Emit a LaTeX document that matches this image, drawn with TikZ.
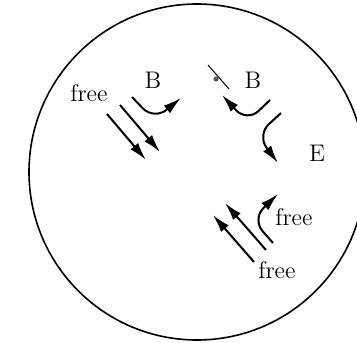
\documentclass[tikz,border=0pt]{standalone}
\usetikzlibrary{arrows.meta}
\tikzset{arr/.style={line width=1pt,-{Latex[length=9pt,width=5pt]}},
  lbl/.style={font=\fontsize{12}{14}\selectfont,inner sep=1pt}}
\begin{document}
\begin{tikzpicture}[x=0.5pt,y=-0.5pt]
        \useasboundingbox (0,0) rectangle (357,342);
        \clip (0,0) rectangle (357,342);
        \draw[line width=0.8pt] (197,172) circle[radius=168];
        \node[lbl] (F1) at (89,93) {free};
        \node[lbl] (B1) at (153,80) {B};
        \node[lbl] (B2) at (253,80) {B};
        \node[lbl] (E) at (317,153) {E};
        \node[lbl] (F2) at (294,217) {free};
        \node[lbl] (F3) at (277,270) {free};
        \coordinate (a1) at (107,114); \coordinate (a2) at (146,160);
        \coordinate (b1) at (120,105); \coordinate (b2) at (160,152);
        \coordinate (c1) at (132,97); \coordinate (c2) at (154,120); \coordinate (c3) at (181,98);
        \coordinate (d1) at (270,100); \coordinate (d2) at (247,122); \coordinate (d3) at (222,95);
        \coordinate (e1) at (281,113); \coordinate (e2) at (257,135); \coordinate (e3) at (278,163);
        \coordinate (g1) at (254,262); \coordinate (g2) at (213,215);
        \coordinate (h1) at (266,250); \coordinate (h2) at (225,203);
        \coordinate (k1) at (273,243); \coordinate (k2) at (252,219); \coordinate (k3) at (278,194);
        \coordinate (p1) at (208,65); \coordinate (p2) at (229,89);
        \draw[arr] (a1) -- (a2);
        \draw[arr] (b1) -- (b2);
        \draw[arr,rounded corners=8] (c1) -- (c2) -- (c3);
        \draw[arr,rounded corners=8] (d1) -- (d2) -- (d3);
        \draw[arr,rounded corners=8] (e1) -- (e2) -- (e3);
        \draw[arr] (g1) -- (g2);
        \draw[arr] (h1) -- (h2);
        \draw[arr,rounded corners=8] (k1) -- (k2) -- (k3);
        \draw[line width=0.5pt] (p1) -- (p2);
        \fill[gray!70!black] (216,79) circle[radius=2.6];
    \end{tikzpicture}
\end{document}
